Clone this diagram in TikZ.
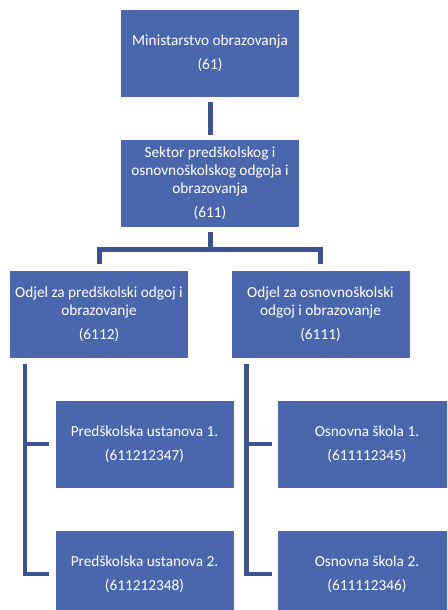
\documentclass[tikz,border=0pt]{standalone}
\usepackage{fontspec}
\setmainfont{Carlito}
\usetikzlibrary{calc}
\definecolor{boxblue}{HTML}{4A66AC}
\definecolor{linkblue}{HTML}{3B5491}
\tikzset{
  unit/.style={fill=boxblue, text=white, minimum width=178pt, minimum height=87pt,
    inner sep=0pt, align=center, font=\fontsize{15.3}{18}\selectfont},
  conn/.style={draw=linkblue, line width=5pt},
  spine/.style={draw=linkblue, line width=4.5pt}
}
\begin{document}
\begin{tikzpicture}[x=1pt, y=-1pt]
  \clip (0,0) rectangle (447,610);
  \fill[white] (0,0) rectangle (447,610);

  % organisational units
  \node[unit] (min) at (210,53.5) {Ministarstvo obrazovanja\\[6pt](61)};
  \node[unit] (sek) at (210,183.5) {Sektor predškolskog i\\osnovnoškolskog odgoja i\\obrazovanja\\[6pt](611)};
  \node[unit] (dL) at (99,314) {Odjel za predškolski odgoj i\\obrazovanje\\[6pt](6112)};
  \node[unit] (dR) at (320.5,314) {Odjel za osnovnoškolski\\odgoj i obrazovanje\\[6pt](6111)};
  \node[unit] (pu1) at (144.5,444) {Predškolska ustanova 1.\\[6pt](611212347)};
  \node[unit] (pu2) at (144.5,574) {Predškolska ustanova 2.\\[6pt](611212348)};
  \node[unit] (os1) at (367,444) {Osnovna škola 1.\\[6pt](611112345)};
  \node[unit] (os2) at (367,574) {Osnovna škola 2.\\[6pt](611112346)};

  % ministry to sector
  \draw[conn, shorten <=5pt, shorten >=5pt] (min.south) -- (sek.north);

  % sector to both departments
  \draw[conn] ([yshift=-5pt]sek.south) -- ++(0,17) -| ([yshift=6pt]dL.north);
  \draw[conn] ([yshift=-5pt]sek.south) -- ++(0,17) -| ([yshift=6pt]dR.north);

  % departments to their institutions
  \coordinate (sL) at ($(dL.south west)+(15,6)$);
  \coordinate (sR) at ($(dR.south west)+(15,6)$);
  \draw[spine] (sL) |- ([xshift=-6pt]pu2.west);
  \draw[spine] (sL |- pu1.west) -- ([xshift=-6pt]pu1.west);
  \draw[spine] (sR) |- ([xshift=-6pt]os2.west);
  \draw[spine] (sR |- os1.west) -- ([xshift=-6pt]os1.west);
\end{tikzpicture}
\end{document}
